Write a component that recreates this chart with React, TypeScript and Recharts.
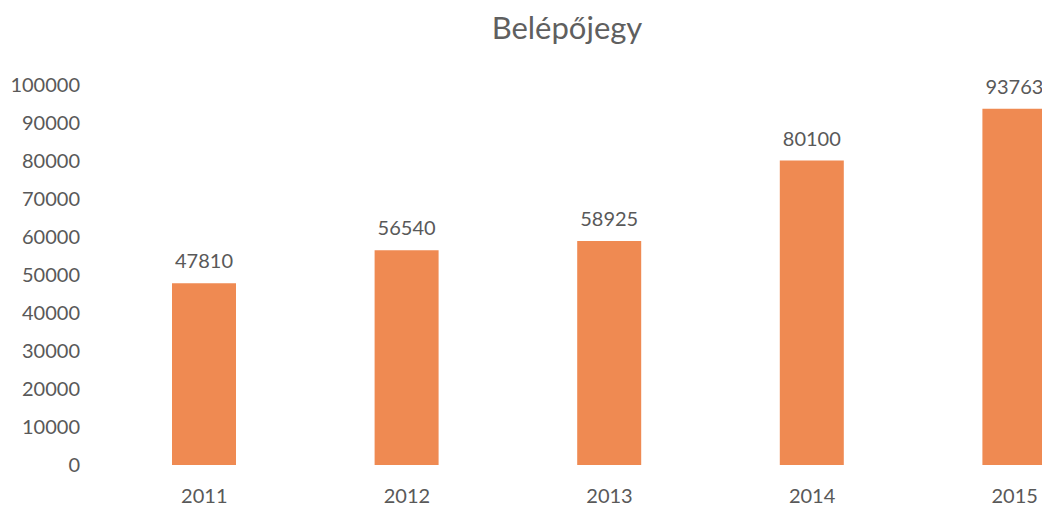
import { BarChart, Bar, XAxis, YAxis, LabelList } from 'recharts';

const years = ['2011', '2012', '2013', '2014', '2015'];
const tickets = [47810, 56540, 58925, 80100, 93763];
const yTicks = [0, 10000, 20000, 30000, 40000, 50000, 60000, 70000, 80000, 90000, 100000];

const data = years.map((y, i) => ({ year: y, value: tickets[i] }));

const textColor = '#595959';
const font = 'Lato, "Open Sans", sans-serif';

export default function App() {
    return (
        <div style={{ position: 'absolute', left: 0, top: 0, width: 1042, height: 509, overflow: 'hidden', background: '#fff' }}>
            <svg width={1042} height={60} style={{ position: 'absolute', left: 0, top: 0 }}>
                <text x={567} y={39} textAnchor="middle" fontFamily={font} fontSize={31} fill="#5f5f5f">
                    Belépőjegy
                </text>
            </svg>
            <div style={{ position: 'absolute', left: 0, top: 0 }}>
                <BarChart width={1116} height={509} data={data} margin={{ top: 85, right: 0, left: 0, bottom: 0 }}>
                    <XAxis
                        dataKey="year"
                        axisLine={false}
                        tickLine={false}
                        tickSize={0}
                        tickMargin={24}
                        height={44}
                        tick={{ fill: textColor, fontSize: 20, fontFamily: font }}
                    />
                    <YAxis
                        domain={[0, 100000]}
                        ticks={yTicks}
                        interval={0}
                        axisLine={false}
                        tickLine={false}
                        tickSize={0}
                        tickMargin={23}
                        width={103}
                        tick={{ fill: textColor, fontSize: 20, fontFamily: font }}
                    />
                    <Bar dataKey="value" fill="#EF8A52" barSize={64} isAnimationActive={false}>
                        <LabelList
                            dataKey="value"
                            position="top"
                            offset={15}
                            fill={textColor}
                            fontSize={20}
                            fontFamily={font}
                        />
                    </Bar>
                </BarChart>
            </div>
        </div>
    );
}
